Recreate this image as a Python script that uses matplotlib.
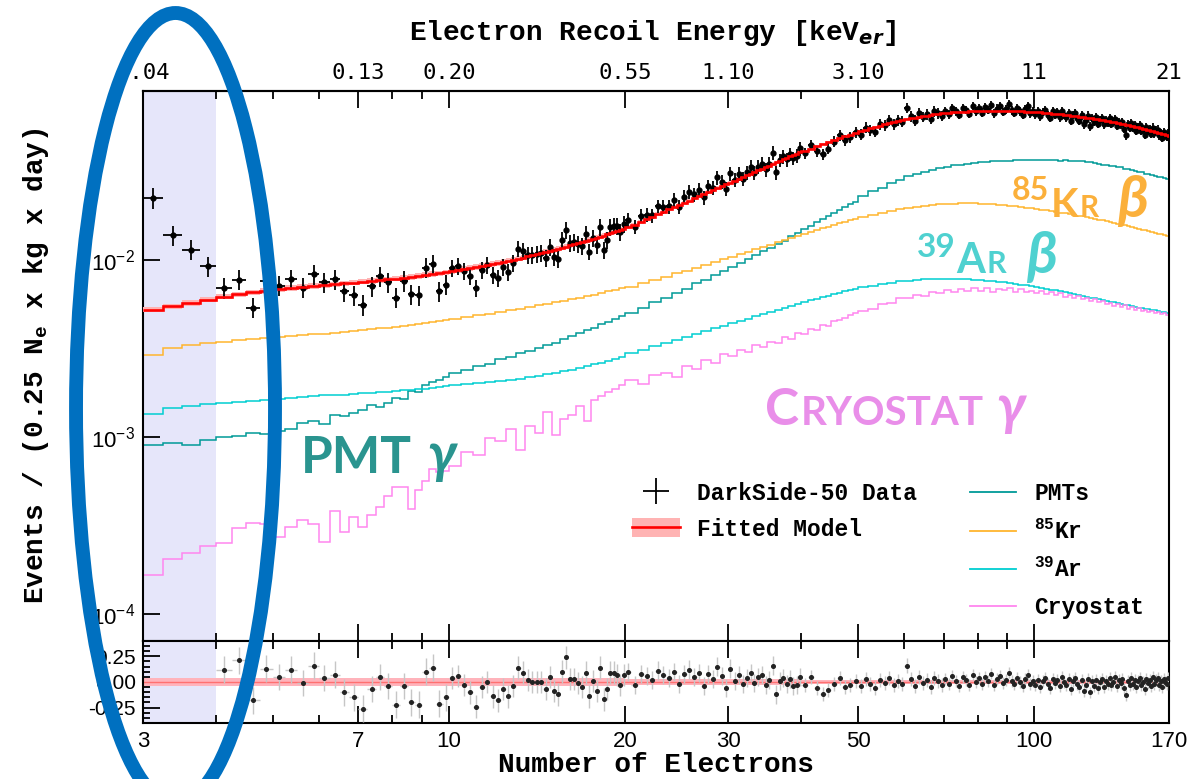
import numpy as np
import matplotlib

matplotlib.use("Agg")
import matplotlib.pyplot as plt
import matplotlib.patches as mpatches
from matplotlib.lines import Line2D
from matplotlib.ticker import (FixedLocator, NullFormatter, NullLocator,
                               MultipleLocator, FormatStrFormatter)

# ---------------------------------------------------------------------------
# Data
# ---------------------------------------------------------------------------

# data bins: 0.25 Ne up to 20, 0.5 up to 40, 1 up to 170
data_edges = np.concatenate([np.arange(3, 20, 0.25), np.arange(20, 40, 0.5),
                             np.arange(40, 170.5, 1.0)])
# model component bins: 0.25 up to 10, 0.5 up to 20, 1 up to 50, 2 up to 170
comp_edges = np.concatenate([np.arange(3, 10, 0.25), np.arange(10, 20, 0.5),
                             np.arange(20, 50, 1.0), np.arange(50, 170.5, 2.0)])

# fitted model (red) per data bin
fit_a = [0.00522, 0.00545, 0.00570, 0.00595, 0.00620, 0.00638, 0.00655, 0.00668,
         0.00680, 0.00692, 0.00702, 0.00712, 0.00720, 0.00728, 0.00736, 0.00744,
         0.00752, 0.00760, 0.00768, 0.00776, 0.00784, 0.00792, 0.00800, 0.00810,
         0.00820, 0.00830, 0.00840, 0.00850,
         0.00862, 0.00874, 0.00886, 0.00898, 0.00910, 0.00922, 0.00935, 0.00948,
         0.00961, 0.00974, 0.00988, 0.01002, 0.01016, 0.01030, 0.01045, 0.01060,
         0.01075, 0.01090, 0.01106, 0.01122, 0.01138, 0.01154, 0.01171, 0.01188,
         0.01205, 0.01222, 0.01240, 0.01258, 0.01276, 0.01295, 0.01314, 0.01333,
         0.01352, 0.01372, 0.01392, 0.01412, 0.01433, 0.01454, 0.01475, 0.01497]
fit_b = [0.0153, 0.0158, 0.0164, 0.0169, 0.0175, 0.0181, 0.0187, 0.0193, 0.0198, 0.0204,
         0.0210, 0.0216, 0.0223, 0.0229, 0.0235, 0.0241, 0.0248, 0.0254, 0.0260, 0.0267,
         0.0273, 0.0280, 0.0287, 0.0293, 0.0300, 0.0307, 0.0314, 0.0320, 0.0327, 0.0334,
         0.0341, 0.0348, 0.0355, 0.0362, 0.0370, 0.0377, 0.0384, 0.0391, 0.0398, 0.0406]
fit_c = [0.0413, 0.0425, 0.0438, 0.0450, 0.0462, 0.0475, 0.0487, 0.0499, 0.0510, 0.0521,
         0.0532, 0.0543, 0.0553, 0.0563, 0.0573, 0.0582, 0.0591, 0.0600, 0.0608, 0.0616,
         0.0623, 0.0630, 0.0637, 0.0643, 0.0649, 0.0654, 0.0659, 0.0664, 0.0668, 0.0672,
         0.0675, 0.0678, 0.0681, 0.0683, 0.0685, 0.0687, 0.0689, 0.0690, 0.0691, 0.0692,
         0.0693, 0.0694, 0.0694, 0.0695, 0.0695, 0.0695, 0.0695, 0.0695, 0.0695, 0.0694,
         0.0694, 0.0693, 0.0693, 0.0692, 0.0691, 0.0690, 0.0689, 0.0688, 0.0687, 0.0686,
         0.0684, 0.0683, 0.0681, 0.0679, 0.0677, 0.0675, 0.0673, 0.0671, 0.0669, 0.0667,
         0.0665, 0.0663, 0.0661, 0.0659, 0.0656, 0.0654, 0.0652, 0.0649, 0.0647, 0.0645,
         0.0642, 0.0640, 0.0637, 0.0635, 0.0632, 0.0630, 0.0627, 0.0625, 0.0622, 0.0619,
         0.0617, 0.0614, 0.0611, 0.0609, 0.0606, 0.0603, 0.0600, 0.0598, 0.0595, 0.0592,
         0.0589, 0.0586, 0.0583, 0.0581, 0.0578, 0.0575, 0.0572, 0.0569, 0.0566, 0.0563,
         0.0560, 0.0557, 0.0554, 0.0551, 0.0548, 0.0545, 0.0542, 0.0539, 0.0536, 0.0533,
         0.0530, 0.0527, 0.0524, 0.0521, 0.0518, 0.0515, 0.0512, 0.0509, 0.0506, 0.0503]

# (data - model) / model per data bin
resid_a = [3.29, 1.53, 1.00, 0.55,
           0.12, 0.21, -0.18, 0.13, 0.05, 0.12, -0.01, 0.16, 0.04, 0.07, -0.10, -0.15,
           -0.26, -0.07, 0.05, -0.04, -0.22, -0.04, -0.20, -0.22, 0.10, 0.14, -0.21, -0.15,
           0.04, 0.06, -0.03, -0.10, -0.24, -0.05, 0.00, -0.14, -0.18, -0.07, -0.14, -0.04,
           0.14, 0.09, 0.02, 0.00, 0.00, 0.00, -0.07, 0.05, -0.09, -0.12, 0.10, 0.24,
           0.03, 0.03, -0.01, -0.05, 0.09, -0.14, 0.01, -0.09,
           0.14, -0.17, -0.07, 0.09, 0.09, 0.07, -0.03, 0.07]
resid_b = [0.10, -0.03, 0.08, 0.06, 0.02, 0.11, 0.07, 0.04, 0.10, -0.02,
           0.08, 0.12, 0.05, 0.09, -0.04, 0.08, 0.03, 0.15, 0.06, -0.06,
           0.13, 0.01, 0.07, -0.02, 0.04, 0.09, -0.01, 0.05, 0.07, -0.03,
           0.02, 0.16, -0.12, 0.01, 0.04, -0.02, 0.03, -0.04, -0.03, 0.05]
resid_c = [-0.03, 0.05, -0.06, -0.12, -0.08, -0.02, 0.04, -0.05, -0.03, 0.01,
           -0.04, 0.03, -0.02, -0.06, 0.02, -0.01, 0.04, -0.03, 0.01, -0.02,
           0.16, 0.03, -0.04, 0.05, -0.01, 0.02, -0.05, 0.04, 0.01, -0.03,
           0.03, -0.02, 0.06, 0.01, -0.04, 0.05, 0.02, -0.03, 0.07, 0.00,
           0.04, -0.02, 0.05, 0.01, 0.08, -0.03, 0.03, 0.06, -0.01, 0.02,
           0.09, 0.01, -0.02, 0.04, 0.00, -0.04, 0.03, 0.07, -0.02, 0.01,
           -0.03, 0.02, -0.05, 0.01, 0.04, -0.02, -0.06, 0.03, -0.01, 0.02,
           -0.04, 0.05, 0.00, -0.03, 0.03, -0.07, 0.01, 0.04, -0.02, -0.05,
           0.02, -0.09, -0.03, 0.03, -0.10, 0.01, -0.04, 0.02, -0.06, 0.00,
           0.03, -0.05, 0.01, -0.02, 0.04, -0.03, 0.00, 0.05, -0.04, 0.02,
           -0.01, 0.03, -0.06, -0.13, 0.01, -0.03, 0.04, -0.02, 0.02, -0.05,
           0.01, 0.04, -0.03, 0.00, -0.07, 0.03, -0.01, 0.02, -0.04, 0.05,
           -0.02, 0.02, 0.04, -0.03, 0.01, -0.05, 0.03, 0.00, -0.02, 0.04]

# relative statistical error of the data and model band half-width
rel_err = np.repeat([0.13, 0.11, 0.09, 0.07, 0.055], [28, 40, 40, 30, 100])
fit_band = np.repeat([0.035, 0.025, 0.015], [68, 40, 130])

# model components per component bin
pmt = [0.000902, 0.000925, 0.000900, 0.000960, 0.00100, 0.00101, 0.00105, 0.00104,
       0.00108, 0.00110, 0.00119, 0.00122, 0.00118, 0.00133, 0.00131, 0.00136,
       0.00142, 0.00152, 0.00148, 0.00156, 0.00166, 0.00164, 0.00182, 0.00180,
       0.00197, 0.00205, 0.00210, 0.00217,
       0.00230, 0.00238, 0.00252, 0.00258, 0.00275, 0.00281, 0.00296, 0.00305, 0.00318, 0.00331,
       0.00340, 0.00358, 0.00370, 0.00384, 0.00401, 0.00412, 0.00433, 0.00447, 0.00465, 0.00482,
       0.00500, 0.00532, 0.00575, 0.00608, 0.00652, 0.00688, 0.00735, 0.00772, 0.00822, 0.00862,
       0.00916, 0.00960, 0.01015, 0.01062, 0.01120, 0.01168, 0.01230, 0.01282, 0.01362, 0.01425,
       0.01500, 0.01562, 0.01645, 0.01698, 0.01775, 0.01835, 0.01910, 0.01980, 0.02055, 0.02125,
       0.0229, 0.0244, 0.0256, 0.0272, 0.0282, 0.0296, 0.0305, 0.0315, 0.0322, 0.0331,
       0.0335, 0.0342, 0.0344, 0.0350, 0.0351, 0.0356, 0.0356, 0.0361, 0.0360, 0.0364,
       0.0363, 0.0367, 0.0365, 0.0368, 0.0366, 0.0369, 0.0366, 0.0368, 0.0366, 0.0367,
       0.0364, 0.0366, 0.0363, 0.0364, 0.0361, 0.0361, 0.0357, 0.0356, 0.0351, 0.0350,
       0.0345, 0.0345, 0.0340, 0.0339, 0.0334, 0.0333, 0.0328, 0.0326, 0.0321, 0.0319,
       0.0314, 0.0313, 0.0307, 0.0306, 0.0301, 0.0299, 0.0295, 0.0293, 0.0289, 0.0287]
kr85 = [0.00290, 0.00318, 0.00328, 0.00337, 0.00344, 0.00350, 0.00355, 0.00360,
        0.00365, 0.00370, 0.00375, 0.00379, 0.00383, 0.00388, 0.00392, 0.00396,
        0.00401, 0.00405, 0.00410, 0.00414, 0.00419, 0.00424, 0.00429, 0.00434,
        0.00440, 0.00446, 0.00452, 0.00458,
        0.00465, 0.00475, 0.00486, 0.00497, 0.00508, 0.00519, 0.00530, 0.00541, 0.00552, 0.00563,
        0.00575, 0.00587, 0.00599, 0.00611, 0.00623, 0.00636, 0.00649, 0.00662, 0.00676, 0.00690,
        0.00705, 0.00738, 0.00771, 0.00804, 0.00837, 0.00870, 0.00904, 0.00938, 0.00972, 0.01007,
        0.01042, 0.01077, 0.01112, 0.01147, 0.01182, 0.01218, 0.01254, 0.01290, 0.01326, 0.01362,
        0.01398, 0.01434, 0.01470, 0.01506, 0.01542, 0.01577, 0.01612, 0.01646, 0.01679, 0.01711,
        0.01745, 0.01800, 0.01850, 0.01895, 0.01935, 0.01970, 0.02000, 0.02025, 0.02045, 0.02060,
        0.02072, 0.02080, 0.02084, 0.02085, 0.02082, 0.02076, 0.02068, 0.02058, 0.02046, 0.02033,
        0.02019, 0.02004, 0.01988, 0.01972, 0.01955, 0.01938, 0.01920, 0.01902, 0.01884, 0.01866,
        0.01848, 0.01830, 0.01812, 0.01794, 0.01776, 0.01758, 0.01740, 0.01722, 0.01704, 0.01686,
        0.01668, 0.01650, 0.01632, 0.01614, 0.01597, 0.01580, 0.01563, 0.01546, 0.01530, 0.01514,
        0.01498, 0.01482, 0.01467, 0.01452, 0.01437, 0.01422, 0.01408, 0.01394, 0.01380, 0.01366]
ar39 = [0.00135, 0.00146, 0.00150, 0.00153, 0.00156, 0.00158, 0.00160, 0.00162,
        0.00164, 0.00166, 0.00168, 0.00169, 0.00171, 0.00172, 0.00173, 0.00175,
        0.00176, 0.00177, 0.00179, 0.00180, 0.00181, 0.00183, 0.00184, 0.00186,
        0.00187, 0.00189, 0.00191, 0.00193,
        0.00195, 0.00198, 0.00201, 0.00204, 0.00207, 0.00210, 0.00213, 0.00217, 0.00221, 0.00225,
        0.00229, 0.00234, 0.00239, 0.00244, 0.00250, 0.00256, 0.00262, 0.00269, 0.00276, 0.00284,
        0.00297, 0.00311, 0.00325, 0.00339, 0.00353, 0.00367, 0.00381, 0.00395, 0.00409, 0.00423,
        0.00437, 0.00451, 0.00465, 0.00479, 0.00493, 0.00507, 0.00521, 0.00535, 0.00549, 0.00563,
        0.00577, 0.00590, 0.00603, 0.00616, 0.00628, 0.00640, 0.00652, 0.00663, 0.00674, 0.00685,
        0.00698, 0.00715, 0.00730, 0.00743, 0.00754, 0.00763, 0.00770, 0.00775, 0.00779, 0.00781,
        0.00782, 0.00781, 0.00779, 0.00776, 0.00772, 0.00768, 0.00763, 0.00757, 0.00751, 0.00745,
        0.00738, 0.00731, 0.00724, 0.00717, 0.00710, 0.00703, 0.00695, 0.00687, 0.00679, 0.00671,
        0.00663, 0.00655, 0.00647, 0.00640, 0.00633, 0.00626, 0.00619, 0.00612, 0.00605, 0.00598,
        0.00592, 0.00586, 0.00580, 0.00574, 0.00568, 0.00562, 0.00557, 0.00552, 0.00547, 0.00542,
        0.00537, 0.00533, 0.00529, 0.00525, 0.00521, 0.00517, 0.00513, 0.00509, 0.00505, 0.00501]
cryostat = [1.66e-4, 2.04e-4, 2.20e-4, 2.42e-4, 2.50e-4, 3.05e-4, 3.25e-4, 3.20e-4,
            2.70e-4, 3.10e-4, 3.40e-4, 3.20e-4, 2.55e-4, 3.80e-4, 2.90e-4, 3.50e-4,
            3.10e-4, 3.60e-4, 4.00e-4, 4.60e-4, 5.20e-4, 5.20e-4, 3.90e-4, 5.00e-4,
            5.60e-4, 6.60e-4, 6.30e-4, 6.40e-4,
            6.8e-4, 8.2e-4, 7.9e-4, 9.8e-4, 9.4e-4, 11.0e-4, 8.4e-4, 11.5e-4, 10.5e-4, 13.8e-4,
            10.2e-4, 12.6e-4, 13.2e-4, 15.0e-4, 12.2e-4, 16.2e-4, 17.0e-4, 17.8e-4, 18.6e-4, 19.5e-4,
            2.10e-3, 1.98e-3, 2.22e-3, 2.30e-3, 2.18e-3, 2.50e-3, 2.42e-3, 2.70e-3, 2.62e-3, 2.95e-3,
            2.85e-3, 3.10e-3, 3.02e-3, 3.30e-3, 3.20e-3, 3.45e-3, 3.40e-3, 3.65e-3, 3.58e-3, 3.85e-3,
            3.80e-3, 4.05e-3, 4.00e-3, 4.30e-3, 4.22e-3, 4.50e-3, 4.55e-3, 4.70e-3, 4.85e-3, 5.00e-3,
            5.15e-3, 5.30e-3, 5.62e-3, 5.70e-3, 6.05e-3, 6.10e-3, 6.35e-3, 6.25e-3, 6.60e-3, 6.45e-3,
            6.75e-3, 6.55e-3, 6.80e-3, 6.62e-3, 6.90e-3, 6.70e-3, 6.95e-3, 6.60e-3, 6.85e-3, 6.72e-3,
            6.95e-3, 6.60e-3, 6.80e-3, 6.55e-3, 6.70e-3, 6.45e-3, 6.65e-3, 6.40e-3, 6.55e-3, 6.30e-3,
            6.45e-3, 6.20e-3, 6.35e-3, 6.10e-3, 6.22e-3, 6.00e-3, 6.12e-3, 5.85e-3, 5.98e-3, 5.75e-3,
            5.85e-3, 5.62e-3, 5.72e-3, 5.50e-3, 5.60e-3, 5.42e-3, 5.52e-3, 5.30e-3, 5.42e-3, 5.22e-3,
            5.32e-3, 5.12e-3, 5.22e-3, 5.05e-3, 5.15e-3, 4.98e-3, 5.08e-3, 4.92e-3, 5.02e-3, 4.90e-3]

comp_labels = ["PMTs", "$^{85}$Kr", "$^{39}$Ar", "Cryostat"]
comp_colors = ["#009a97", "#ffb52e", "#00ced1", "#ff86ef"]

electron_ticks = [3, 7, 10, 20, 30, 50, 100, 170]
electron_labels = ["3", "7", "10", "20", "30", "50", "100", "170"]
energy_labels = ["0.04", "0.13", "0.20", "0.55", "1.10", "3.10", "11", "21"]
minor_ticks = [4, 5, 6, 8, 9, 40, 60, 70, 80, 90]

# derived arrays
fit = np.array(fit_a + fit_b + fit_c)
resid = np.array(resid_a + resid_b + resid_c)
data = fit * (1 + resid)
centers = 0.5 * (data_edges[:-1] + data_edges[1:])
half_w = 0.5 * np.diff(data_edges)

# ---------------------------------------------------------------------------
# Style
# ---------------------------------------------------------------------------
plt.rcParams["font.family"] = "Liberation Sans"
plt.rcParams["mathtext.fontset"] = "custom"
plt.rcParams["mathtext.rm"] = "Liberation Mono:bold"
plt.rcParams["mathtext.bf"] = "Liberation Mono:bold"
plt.rcParams["mathtext.it"] = "DejaVu Sans:italic:bold"

MONO = dict(family="Liberation Mono", weight="bold")
ANNOT_FONT = ["Lato", "DejaVu Sans"]

fig = plt.figure(figsize=(12.03, 7.79), dpi=100)
ax = fig.add_axes([0.1189, 0.17715, 0.8529, 0.70603])
ax_r = fig.add_axes([0.1189, 0.07189, 0.8529, 0.10526], sharex=ax)

# ---------------------------------------------------------------------------
# Main panel
# ---------------------------------------------------------------------------
ax.axvspan(3, 4, color="#e6e6fa", lw=0, zorder=0)
for vals, col in zip([pmt, kr85, ar39, cryostat], comp_colors):
    ax.stairs(vals, comp_edges, color=col, lw=1.1, baseline=None, zorder=2)

ax.stairs(fit * (1 + fit_band), data_edges, baseline=fit * (1 - fit_band),
          fill=True, color="#ffb3b3", lw=0, zorder=3)
ax.errorbar(centers, data, xerr=half_w, yerr=data * rel_err, fmt="o", ms=3.5,
            color="black", elinewidth=1.3, capsize=0, zorder=4)
ax.stairs(fit, data_edges, color="red", lw=1.9, baseline=None, zorder=5)

ax.set_xscale("log")
ax.set_xlim(3, 170)
ax.set_yscale("log")
ax.set_ylim(7e-5, 0.09)
ax.yaxis.set_minor_locator(NullLocator())

# ---------------------------------------------------------------------------
# Residual panel
# ---------------------------------------------------------------------------
ax_r.axvspan(3, 4, color="#e6e6fa", lw=0, zorder=0)
ax_r.stairs(fit_band, data_edges, baseline=-fit_band, fill=True,
            color="#ffb3bb", lw=0, zorder=2)
ax_r.axhline(0, color="#ff7070", lw=1.0, zorder=2)
ax_r.errorbar(centers, resid, xerr=half_w, yerr=rel_err, fmt="o", ms=2.6,
              mfc="#222222", mec="#222222", ecolor="#c6c6c6", elinewidth=1.0,
              capsize=0, zorder=3)
ax_r.set_ylim(-0.4, 0.4)
ax_r.set_yticks([-0.25, 0.0, 0.25])
ax_r.yaxis.set_minor_locator(MultipleLocator(0.05))
ax_r.yaxis.set_major_formatter(FormatStrFormatter("%.2f"))

ax_r.set_xticks(electron_ticks, labels=electron_labels)
ax_r.xaxis.set_minor_locator(FixedLocator(minor_ticks))
ax_r.xaxis.set_minor_formatter(NullFormatter())

# ---------------------------------------------------------------------------
# Ticks and spines
# ---------------------------------------------------------------------------
ax.tick_params(which="both", direction="in", top=False, right=False,
               labelbottom=False, labelsize=16, pad=6, width=1.3)
ax.tick_params(which="major", length=12)
ax.tick_params(which="minor", length=6)
ax_r.tick_params(which="both", direction="in", top=True, right=False, width=1.3)
ax_r.tick_params(which="major", length=12)
ax_r.tick_params(which="minor", length=6)
ax_r.tick_params(axis="x", labelsize=16, pad=6)
ax_r.tick_params(axis="y", labelsize=15, pad=5)
ax_r.tick_params(axis="y", which="major", length=12)
ax_r.tick_params(axis="y", which="minor", length=5)
for a in (ax, ax_r):
    for s in a.spines.values():
        s.set_linewidth(1.5)

sec = ax.secondary_xaxis("top")
sec.set_xticks(electron_ticks, labels=energy_labels,
               fontfamily="DejaVu Sans Mono", fontsize=16)
sec.set_xticks(minor_ticks, minor=True)
sec.xaxis.set_minor_formatter(NullFormatter())
sec.tick_params(which="both", direction="in", width=1.3, pad=6)
sec.tick_params(which="major", length=12)
sec.tick_params(which="minor", length=6)
sec.spines["top"].set_linewidth(1.5)

# ---------------------------------------------------------------------------
# Labels
# ---------------------------------------------------------------------------
fig.text(653 / 1203, 1 - 33 / 779, "Electron Recoil Energy [keV$_{er}$]",
         ha="center", va="center", fontsize=20, **MONO)
fig.text(656 / 1203, 1 - 765 / 779, "Number of Electrons",
         ha="center", va="center", fontsize=20, **MONO)
fig.text(36 / 1203, 1 - 366 / 779,
         "Events / (0.25 N$_{\\mathrm{e}}$ x kg x day)",
         ha="center", va="center", rotation=90, fontsize=20, **MONO)

# ---------------------------------------------------------------------------
# Legends
# ---------------------------------------------------------------------------
h_data = Line2D([], [], color="black", marker="+", ms=19, mew=1.3, ls="none")
h_fit = (mpatches.Patch(facecolor="#ffb3b3", edgecolor="none"),
         Line2D([], [], color="red", lw=1.9))
leg1 = ax.legend([h_data, h_fit], ["DarkSide-50 Data", "Fitted Model"],
                 loc="upper left", bbox_to_anchor=(0.4766, 0.289),
                 frameon=False, prop=dict(size=16.5, **MONO),
                 handlelength=2.1, handleheight=0.9, handletextpad=0.75,
                 labelspacing=0.55, borderpad=0, borderaxespad=0)
ax.add_artist(leg1)

h_comp = [Line2D([], [], color=c, lw=1.3) for c in comp_colors]
ax.legend(h_comp, comp_labels, loc="upper left", bbox_to_anchor=(0.806, 0.289),
          frameon=False, prop=dict(size=16.5, **MONO), handlelength=2.0,
          handletextpad=0.8, labelspacing=0.62, borderpad=0, borderaxespad=0)


# ---------------------------------------------------------------------------
# Big coloured annotations (small caps made of pieces)
# ---------------------------------------------------------------------------
def styled_label(ax, x, y, pieces, color):
    renderer = ax.figure.canvas.get_renderer()
    dx = 0.0
    for text, size, rise, italic, gap in pieces:
        dx += gap
        t = ax.annotate(text, (x, y), xycoords="axes fraction",
                        xytext=(dx, rise), textcoords="offset points",
                        fontsize=size, color=color, family=ANNOT_FONT,
                        weight="bold", style="italic" if italic else "normal",
                        ha="left", va="baseline", zorder=6)
        dx += t.get_window_extent(renderer).width * 72 / ax.figure.dpi


styled_label(ax, 0.847, 0.771,
             [("85", 23, 12, False, 0), ("K", 29, 0, False, 1),
              ("R", 21.5, 0, False, 1), ("β", 42, 0, True, 13)], "#fbb03b")
styled_label(ax, 0.754, 0.669,
             [("39", 24, 11.5, False, 0), ("A", 30, 0, False, 0.5),
              ("R", 22, 0, False, 1), ("β", 42, 0, True, 14)], "#4fd1d0")
styled_label(ax, 0.154, 0.305,
             [("PMT", 37, 0, False, 0), ("γ", 40, 0, True, 11)], "#2a948f")
styled_label(ax, 0.606, 0.393,
             [("C", 37, 0, False, 0), ("RYOSTAT", 29, 0, False, 1),
              ("γ", 40, 0, True, 9)], "#e98ee9")

# ---------------------------------------------------------------------------
# Blue highlight ellipse over the low-energy region
# ---------------------------------------------------------------------------
ring = mpatches.Ellipse((0.1459, 0.4756), 0.1654, 1.0154, transform=fig.transFigure,
                        fill=False, edgecolor="#0070c0", lw=10, zorder=10)
fig.add_artist(ring)

fig.savefig("out.png", dpi=100)
